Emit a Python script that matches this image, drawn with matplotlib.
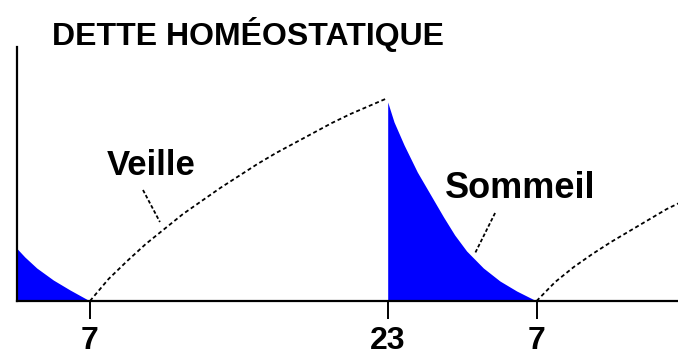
import numpy as np
import matplotlib
matplotlib.use("Agg")
import matplotlib.pyplot as plt

plt.rcParams['font.family'] = ['Liberation Sans', 'DejaVu Sans']

# dette homéostatique (unités arbitraires)
sommeil_avant_h = [3.0, 3.5, 4.14, 5.03, 5.93, 7.0]
sommeil_avant_v = [54, 44, 33, 21, 11, 0]

veille1_h = [7, 8, 9, 10, 11, 12, 13, 14, 15, 16, 17, 18, 19, 20, 21, 22, 23]
veille1_v = [0, 22, 40, 57, 72, 87, 100, 113, 125, 137, 148, 158, 168, 178, 187, 195, 203]

sommeil_h = [23, 23.34, 23.88, 24.59, 25.31, 26.0, 26.6, 27.24, 28.14, 29.03, 29.93, 31.0]
sommeil_v = [199, 179, 156, 129, 106, 84, 66, 50, 33, 20, 10, 0]

veille2_h = [31, 32, 33, 34, 35, 36, 37, 38, 39]
veille2_v = [0, 19, 34, 47, 59, 70, 81, 92, 101]

ticks = [7, 23, 31]
tick_labels = ['7', '23', '7']

W, H = 678, 358
fig = plt.figure(figsize=(W / 100, H / 100), dpi=100)
ax = fig.add_axes([17 / W, (H - 301) / H, 1 - 17 / W, (301 - 47) / H])

bleu = '#0000ff'
ax.fill_between(sommeil_avant_h, sommeil_avant_v, 0, color=bleu, lw=0)
ax.fill_between(sommeil_h, sommeil_v, 0, color=bleu, lw=0)

pointille = (0, (2.2, 1.6))
ax.plot(veille1_h, veille1_v, color='black', lw=1.3, ls=pointille)
ax.plot(veille2_h, veille2_v, color='black', lw=1.3, ls=pointille)

ax.set_xlim(3.08, 38.6)
ax.set_ylim(0, 254)

for s in ['top', 'right']:
    ax.spines[s].set_visible(False)
for s in ['left', 'bottom']:
    ax.spines[s].set_linewidth(1.6)

ax.set_yticks([])
ax.set_xticks(ticks)
ax.set_xticklabels(tick_labels, fontsize=23, fontweight='bold')
ax.tick_params(axis='x', direction='out', length=13, width=1.4, pad=5)

# légendes avec traits de rappel
ax.text(7.92, 126, 'Veille', fontsize=25, fontweight='bold', va='baseline', ha='left')
ax.plot([9.85, 10.76], [111, 79], color='black', lw=1.3, ls=(0, (2, 1.2)))
ax.text(26.08, 103, 'Sommeil', fontsize=26, fontweight='bold', va='baseline', ha='left')
ax.plot([28.77, 27.70], [88, 48], color='black', lw=1.3, ls=(0, (2, 1.2)))

fig.text(52 / W, 1 - 45 / H, 'DETTE HOMÉOSTATIQUE', fontsize=23, fontweight='bold',
         va='baseline', ha='left')

fig.savefig('out.png', dpi=100)
